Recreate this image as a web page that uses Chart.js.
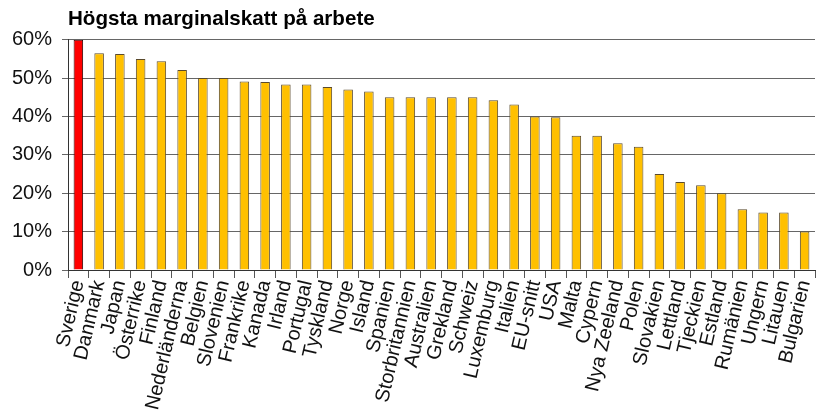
<!DOCTYPE html>
<html lang="sv">
<head>
  <meta charset="UTF-8" />
  <title>Högsta marginalskatt på arbete</title>
  <style>
    body {
      margin: 0;
      padding: 0;
      background: #fff;
    }
    #wrap {
      width: 817px;
      height: 419px;
      position: relative;
    }
  </style>
</head>
<body>
  <div id="wrap">
    <canvas id="chart"></canvas>
  </div>

  <script src="https://cdn.jsdelivr.net/npm/chart.js"></script>
  <script>
    const countries = [
      "Sverige", "Danmark", "Japan", "Österrike", "Finland", "Nederländerna",
      "Belgien", "Slovenien", "Frankrike", "Kanada", "Irland", "Portugal",
      "Tyskland", "Norge", "Island", "Spanien", "Storbritannien", "Australien",
      "Grekland", "Schweiz", "Luxemburg", "Italien", "EU-snitt", "USA",
      "Malta", "Cypern", "Nya Zeeland", "Polen", "Slovakien", "Lettland",
      "Tjeckien", "Estland", "Rumänien", "Ungern", "Litauen", "Bulgarien"
    ];
    const topRate = [
      60, 56.5, 56.3, 55, 54.4, 52.1,
      50, 50, 49.1, 49, 48.3, 48.3,
      47.7, 47, 46.5, 45, 45, 45,
      45, 45, 44.2, 43.1, 40, 39.8,
      35, 35, 33, 32.1, 25, 22.9,
      22.1, 20, 15.8, 15, 15, 10
    ];
    const yTicks = [0, 10, 20, 30, 40, 50, 60];
    const highlight = "Sverige";

    const font = "'Liberation Sans', Arial, sans-serif";

    new Chart(document.getElementById("chart"), {
      type: "bar",
      data: {
        labels: countries,
        datasets: [{
          data: topRate,
          backgroundColor: ctx => countries[ctx.dataIndex] === highlight ? "#ff0000" : "#ffc000",
          borderColor: ctx => countries[ctx.dataIndex] === highlight ? "#2a0000" : "#5a4a2c",
          borderWidth: 1,
          categoryPercentage: 1,
          barPercentage: 0.46
        }]
      },
      options: {
        responsive: true,
        maintainAspectRatio: false,
        animation: false,
        layout: { padding: { left: 0, right: 2, top: 0, bottom: 0 } },
        plugins: {
          legend: { display: false },
          tooltip: { enabled: false },
          title: {
            display: true,
            text: "Högsta marginalskatt på arbete",
            align: "start",
            fullSize: false,
            color: "#000",
            font: { family: font, size: 20.6, weight: "bold" },
            padding: { top: 7, bottom: 8 }
          }
        },
        scales: {
          x: {
            grid: {
              display: true,
              drawOnChartArea: false,
              drawTicks: true,
              tickLength: 8,
              color: "#555"
            },
            border: { color: "#333", width: 1 },
            ticks: {
              autoSkip: false,
              minRotation: 77,
              maxRotation: 77,
              padding: 0,
              color: "#111",
              font: { family: font, size: 20 }
            },
            afterFit: scale => {
              scale.height = 149;
              scale.paddingLeft = 0;
              scale.paddingRight = 0;
            }
          },
          y: {
            min: 0,
            max: 60,
            afterBuildTicks: scale => {
              scale.ticks = yTicks.map(v => ({ value: v }));
            },
            grid: {
              color: "#666",
              lineWidth: 1,
              tickLength: 6
            },
            border: { color: "#333", width: 1 },
            ticks: {
              padding: 10,
              color: "#111",
              font: { family: font, size: 20 },
              callback: v => v + "%"
            },
            afterFit: scale => { scale.width = 68; }
          }
        }
      }
    });
  </script>
</body>
</html>
